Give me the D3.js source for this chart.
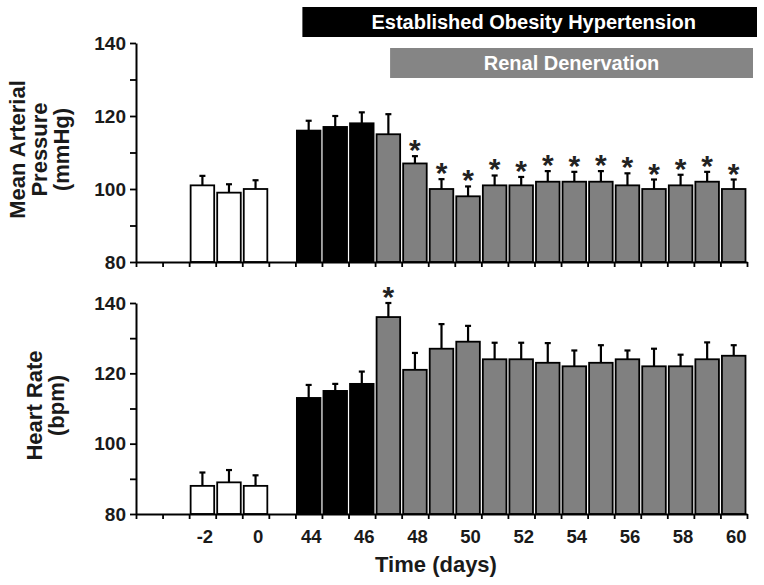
<!DOCTYPE html>
<html><head><meta charset="utf-8">
<script src="https://cdn.jsdelivr.net/npm/d3@7"></script>
<style>
body{margin:0;background:#fff;}
text{font-family:"Liberation Sans",Arial,Helvetica,sans-serif;font-weight:bold;}
</style>
</head><body>
<svg id="c" width="764" height="585"></svg>
<script>
// ---- data ----
const slotDays = [null, null, -2, -1, 0, null, 44, 45, 46, 47, 48, 49, 50, 51, 52, 53, 54, 55, 56, 57, 58, 59, 60];
const days     = [-2, -1, 0, 44, 45, 46, 47, 48, 49, 50, 51, 52, 53, 54, 55, 56, 57, 58, 59, 60];
const mapMean  = [101, 99, 100, 116, 117, 118, 115, 107, 100, 98, 101, 101, 102, 102, 102, 101, 100, 101, 102, 100];
const mapSem   = [2.6, 2.3, 2.4, 2.7, 3.0, 3.0, 5.5, 2.0, 2.7, 2.7, 2.7, 2.3, 2.9, 2.7, 2.9, 3.3, 2.6, 2.9, 2.7, 2.6];
const mapSig   = [0, 0, 0, 0, 0, 0, 0, 1, 1, 1, 1, 1, 1, 1, 1, 1, 1, 1, 1, 1];
const hrMean   = [88, 89, 88, 113, 115, 117, 136, 121, 127, 129, 124, 124, 123, 122, 123, 124, 122, 122, 124, 125];
const hrSem    = [3.8, 3.5, 3.0, 3.7, 2.0, 3.5, 4.0, 4.8, 7.0, 4.5, 4.7, 4.7, 5.6, 4.5, 5.0, 2.5, 5.0, 3.3, 4.8, 3.0];
const hrSig    = [0, 0, 0, 0, 0, 0, 1, 0, 0, 0, 0, 0, 0, 0, 0, 0, 0, 0, 0, 0];
const xTickLabels = [-2, 0, 44, 46, 48, 50, 52, 54, 56, 58, 60];
const yTicks      = [80, 90, 100, 110, 120, 130, 140];
const yTickLabels = [80, 100, 120, 140];
const banners = [
  {label: "Established Obesity Hypertension", fromDay: 44, fill: "#000000"},
  {label: "Renal Denervation", fromDay: 47, fill: "#858585"}
];

// ---- layout ----
const svg = d3.select("#c");
const X0 = 136, X1 = 747;
const nSlots = slotDays.length;
const xb = d3.scaleLinear().domain([0, nSlots]).range([X0, X1]);
const slotIndex = d => slotDays.indexOf(d);
const bw = xb(1) - xb(0);
const fillOf = d => d <= 0 ? "#ffffff" : (d <= 46 ? "#000000" : "#808080");

const panels = [
  {mean: mapMean, sem: mapSem, sig: mapSig, top: 43, bottom: 262, title: ["Mean Arterial", "Pressure", "(mmHg)"], showX: false},
  {mean: hrMean, sem: hrSem, sig: hrSig, top: 303, bottom: 514, title: ["Heart Rate", "(bpm)"], showX: true}
];

panels.forEach(p => {
  const y = d3.scaleLinear().domain([80, 140]).range([p.bottom, p.top]);
  const g = svg.append("g");

  // bars
  g.selectAll("rect.bar").data(days).join("rect")
    .attr("x", d => xb(slotIndex(d)) + 1.5)
    .attr("width", bw - 3)
    .attr("y", (d, i) => y(p.mean[i]))
    .attr("height", (d, i) => y(80) - y(p.mean[i]))
    .attr("fill", d => fillOf(d))
    .attr("stroke", "#000").attr("stroke-width", 1.8);

  // error bars (upper)
  g.selectAll("line.err").data(days).join("line")
    .attr("x1", d => xb(slotIndex(d) + 0.5)).attr("x2", d => xb(slotIndex(d) + 0.5))
    .attr("y1", (d, i) => y(p.mean[i]))
    .attr("y2", (d, i) => y(p.mean[i] + p.sem[i]))
    .attr("stroke", "#000").attr("stroke-width", 2.2);
  g.selectAll("line.cap").data(days).join("line")
    .attr("x1", d => xb(slotIndex(d) + 0.5) - 3).attr("x2", d => xb(slotIndex(d) + 0.5) + 3)
    .attr("y1", (d, i) => y(p.mean[i] + p.sem[i]))
    .attr("y2", (d, i) => y(p.mean[i] + p.sem[i]))
    .attr("stroke", "#000").attr("stroke-width", 2.2);

  // significance
  g.selectAll("text.sig").data(days.filter((d, i) => p.sig[i])).join("text")
    .attr("x", d => xb(slotIndex(d) + 0.5))
    .attr("y", d => { const i = days.indexOf(d); return y(p.mean[i] + p.sem[i]) + 4; })
    .attr("text-anchor", "middle").attr("font-size", 30).attr("fill", "#222")
    .text("*");

  // x axis (boundary ticks)
  const xa = g.append("g").attr("transform", `translate(0,${p.bottom})`)
    .call(d3.axisBottom(xb).tickValues(d3.range(0, nSlots + 1)).tickFormat("").tickSize(5).tickSizeOuter(0));
  xa.select(".domain").attr("stroke-width", 2);
  xa.selectAll(".tick line").attr("stroke-width", 1.8);

  if (p.showX) {
    const xl = g.append("g").attr("transform", `translate(2,${p.bottom})`)
      .call(d3.axisBottom(xb).tickValues(xTickLabels.map(d => slotIndex(d) + 0.5))
        .tickFormat(v => slotDays[Math.floor(v)]).tickSize(0).tickPadding(16));
    xl.select(".domain").remove();
    xl.selectAll("text").attr("font-size", 18.5).attr("fill", "#1a1a1a")
      .style("font-family", "'Liberation Sans',Arial,sans-serif").style("font-weight", "bold");
    svg.append("text").attr("x", 436).attr("y", 572)
      .attr("text-anchor", "middle").attr("font-size", 22).attr("fill", "#1a1a1a")
      .text("Time (days)");
  }

  // y axis
  const ya = g.append("g").attr("transform", `translate(${X0},0)`)
    .call(d3.axisLeft(y).tickValues(yTicks).tickFormat(v => yTickLabels.includes(v) ? v : "")
      .tickSize(6).tickSizeOuter(0).tickPadding(4));
  ya.select(".domain").attr("stroke-width", 2);
  ya.selectAll(".tick line").attr("stroke-width", 1.8);
  ya.selectAll("text").attr("font-size", 19).attr("fill", "#1a1a1a")
    .style("font-family", "'Liberation Sans',Arial,sans-serif").style("font-weight", "bold");

  // y title
  const cy = (p.top + p.bottom) / 2 - 3;
  const baseX = p.title.length === 3 ? 25 : 42;
  p.title.forEach((t, k) => {
    svg.append("text")
      .attr("transform", `translate(${baseX + k * 22},${cy}) rotate(-90)`)
      .attr("text-anchor", "middle").attr("font-size", 22).attr("fill", "#1a1a1a")
      .text(t);
  });
});

// banners
const bannerGeom = [
  {x0: xb(slotIndex(44)) + 7, x1: X1 + 10, y0: 7, h: 30},
  {x0: xb(slotIndex(47)) + 15, x1: X1 + 6, y0: 48, h: 30}
];
banners.forEach((b, k) => {
  const gm = bannerGeom[k];
  svg.append("rect").attr("x", gm.x0).attr("y", gm.y0).attr("width", gm.x1 - gm.x0).attr("height", gm.h)
    .attr("fill", b.fill);
  svg.append("text").attr("x", (gm.x0 + gm.x1) / 2 + (k === 0 ? 4 : 0)).attr("y", gm.y0 + 22.3)
    .attr("text-anchor", "middle").attr("font-size", 20).attr("fill", "#fff")
    .text(b.label);
});
</script>
</body></html>
